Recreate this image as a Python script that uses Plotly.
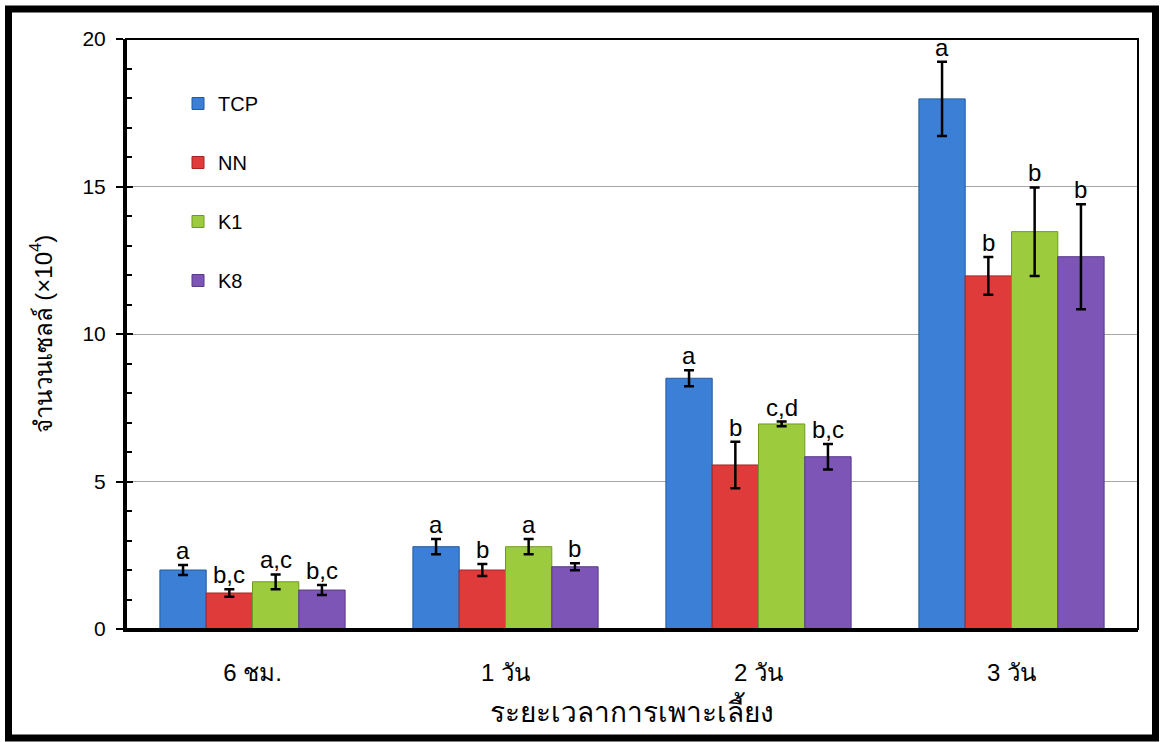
import plotly.graph_objects as go

# Culture time points and cell-count data (x10^4 cells)
periods = ["6 ชม.", "1 วัน", "2 วัน", "3 วัน"]
series_names = ["TCP", "NN", "K1", "K8"]

tcp_mean = [2.0, 2.79, 8.5, 17.97]
nn_mean = [1.22, 2.0, 5.56, 11.97]
k1_mean = [1.6, 2.79, 6.95, 13.47]
k8_mean = [1.32, 2.11, 5.84, 12.62]

tcp_err = [0.17, 0.26, 0.27, 1.26]
nn_err = [0.13, 0.2, 0.79, 0.64]
k1_err = [0.25, 0.26, 0.08, 1.5]
k8_err = [0.17, 0.12, 0.43, 1.78]

tcp_sig = ["a", "a", "a", "a"]
nn_sig = ["b,c", "b", "b", "b"]
k1_sig = ["a,c", "a", "c,d", "b"]
k8_sig = ["b,c", "b", "b,c", "b"]

means = [tcp_mean, nn_mean, k1_mean, k8_mean]
errors = [tcp_err, nn_err, k1_err, k8_err]
letters = [tcp_sig, nn_sig, k1_sig, k8_sig]
fill_colors = ["#3b7fd6", "#e03b3b", "#9ccc3e", "#7d55b6"]
edge_colors = ["#235a9e", "#a52424", "#6f9a22", "#573a88"]

FONT = "Arial, Liberation Sans, DejaVu Sans, Noto Sans, sans-serif"
BAR_W = 0.183

fig = go.Figure()
annotations = []
for j, name in enumerate(series_names):
    offset = (j - 1.5) * BAR_W
    xs = [i + offset for i in range(len(periods))]
    fig.add_trace(go.Bar(
        x=xs, y=means[j], width=BAR_W, name=name, legendgroup=name,
        marker=dict(color=fill_colors[j], line=dict(color=edge_colors[j], width=1)),
        error_y=dict(type="data", array=errors[j], visible=True,
                     color="black", thickness=2.5, width=5),
    ))
    for i, x in enumerate(xs):
        annotations.append(dict(
            x=x, y=means[j][i] + errors[j][i], xref="x", yref="y",
            text=letters[j][i], showarrow=False, yanchor="bottom", yshift=-1,
            font=dict(family=FONT, size=24, color="black"),
        ))

W, H = 1160, 742
L, R, T, B = 126, 22, 39, 113
pw, ph = W - L - R, H - T - B


def px_x(v):
    return (v - L) / pw


def px_y(v):
    return (H - B - v) / ph


shapes = [
    # thin box around the plotting area
    dict(type="rect", xref="paper", yref="paper", x0=0, y0=0, x1=1, y1=1,
         line=dict(color="black", width=2), layer="above"),
    # heavy frame around the whole figure
    dict(type="rect", xref="paper", yref="paper",
         x0=px_x(8.5), x1=px_x(1155.5), y0=px_y(738), y1=px_y(9),
         line=dict(color="black", width=7)),
]

fig.update_layout(
    width=W, height=H,
    margin=dict(l=L, r=R, t=T, b=B),
    paper_bgcolor="white", plot_bgcolor="white",
    barmode="overlay",
    font=dict(family=FONT, color="black"),
    showlegend=True,
    legend=dict(
        x=px_x(178), y=px_y(84), xanchor="left", yanchor="top",
        traceorder="grouped", tracegroupgap=30,
        font=dict(family=FONT, size=20, color="black"),
        bgcolor="rgba(0,0,0,0)", itemwidth=30,
    ),
    annotations=annotations,
    shapes=shapes,
    xaxis=dict(
        range=[-0.5, 3.5],
        tickmode="array", tickvals=list(range(len(periods))), ticktext=periods,
        tickfont=dict(family=FONT, size=24),
        showgrid=False, zeroline=False,
        showline=True, linecolor="black", linewidth=3,
        ticks="", ticklabelstandoff=20,
        title=dict(text="ระยะเวลาการเพาะเลี้ยง", font=dict(family=FONT, size=28),
                   standoff=18),
    ),
    yaxis=dict(
        range=[0, 20], tick0=0, dtick=5,
        tickfont=dict(family=FONT, size=21),
        showgrid=True, gridcolor="#a6a6a6", gridwidth=1.2,
        zeroline=False,
        showline=True, linecolor="black", linewidth=3,
        ticks="outside", ticklen=7, tickwidth=2, tickcolor="black",
        ticklabelstandoff=6,
        minor=dict(dtick=1, ticks="inside", ticklen=6, tickwidth=2,
                   tickcolor="black", showgrid=False),
        title=dict(text="จำนวนเซลล์ (×10<sup>4</sup>)",
                   font=dict(family=FONT, size=24), standoff=24),
    ),
    yaxis2=dict(
        range=[0, 20], tick0=0, dtick=5, overlaying="y", side="left",
        showticklabels=False, showgrid=False, zeroline=False,
        ticks="inside", ticklen=7, tickwidth=2, tickcolor="black",
    ),
)

# invisible trace anchoring the overlay axis that carries the inner major ticks
fig.add_trace(go.Scatter(x=[0], y=[0], yaxis="y2", mode="markers",
                         marker=dict(opacity=0), showlegend=False,
                         hoverinfo="skip"))

fig.write_html("out.html")
